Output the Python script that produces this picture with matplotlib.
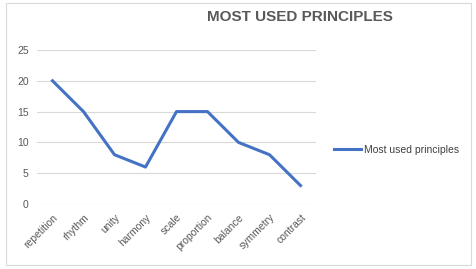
import matplotlib
matplotlib.use("Agg")
import matplotlib.pyplot as plt
from matplotlib.patches import Rectangle

categories = ["repetition", "rhythm", "unity", "harmony", "scale",
              "proportion", "balance", "symmetry", "contrast"]
values = [20, 15, 8, 6, 15, 15, 10, 8, 3]
yticks = [0, 5, 10, 15, 20, 25]

plt.rcParams['font.family'] = ['Liberation Sans', 'DejaVu Sans']
fig = plt.figure(figsize=(4.76, 2.69), dpi=100)
fig.patches.append(Rectangle((6 / 476, 1 - 265 / 269), 465 / 476, 262 / 269,
                             transform=fig.transFigure, fill=False,
                             edgecolor="#d9d9d9", linewidth=0.8))
ax = fig.add_axes([37 / 476, 1 - 204 / 269, 279 / 476, 154 / 269])
x = list(range(len(categories)))
ax.plot(x, values, color="#4472C4", linewidth=2.2, label="Most used principles")
ax.set_xlim(-0.5, len(categories) - 0.5)
ax.set_ylim(0, 25)
ax.set_yticks(yticks)
ax.set_xticks(x)
ax.set_xticklabels(categories, rotation=45, ha="right", rotation_mode="anchor")
ax.tick_params(length=0, labelsize=7.5, colors="#595959", pad=6)
ax.grid(axis="y", color="#d9d9d9", linewidth=0.8)
ax.set_axisbelow(True)
for s in ax.spines.values():
    s.set_visible(False)
fig.text(300 / 476, 1 - 17 / 269, "MOST USED PRINCIPLES", ha="center", va="center",
         fontsize=11, fontweight="bold", color="#595959")
fig.legend(loc="center left", bbox_to_anchor=(325 / 476, 1 - 150 / 269), frameon=False,
           fontsize=7.5, handlelength=2.6, handletextpad=0.2, labelcolor="#404040")
fig.savefig("out.png", dpi=100)
